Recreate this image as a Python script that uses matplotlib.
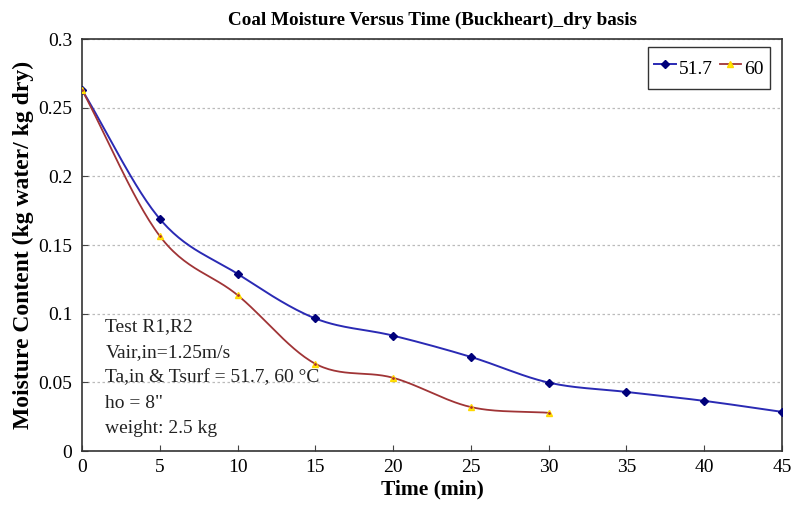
import matplotlib
matplotlib.use("Agg")
import matplotlib.pyplot as plt
import numpy as np

plt.rcParams['font.family'] = ['Liberation Serif', 'DejaVu Serif']

# Moisture content (kg water / kg dry) vs time (min)
time_517 = [0, 5, 10, 15, 20, 25, 30, 35, 40, 45]
mc_517 = [0.263, 0.169, 0.129, 0.0965, 0.084, 0.0685, 0.0498, 0.043, 0.0365, 0.0285]
time_60 = [0, 5, 10, 15, 20, 25, 30]
mc_60 = [0.263, 0.1565, 0.1135, 0.0635, 0.0533, 0.032, 0.0278]

y_ticks = [0, 0.05, 0.1, 0.15, 0.2, 0.25, 0.3]
y_tick_labels = ['0', '0.05', '0.1', '0.15', '0.2', '0.25', '0.3']
x_ticks = [0, 5, 10, 15, 20, 25, 30, 35, 40, 45]

notes = ['Test R1,R2', 'Vair,in=1.25m/s', 'Ta,in & Tsurf = 51.7, 60 \u00b0C',
         'ho = 8"', 'weight: 2.5 kg']


def smooth(x, y, n=30):
    # Catmull-Rom spline through the measured points
    x = np.asarray(x, float)
    y = np.asarray(y, float)
    px = np.concatenate([[2 * x[0] - x[1]], x, [2 * x[-1] - x[-2]]])
    py = np.concatenate([[2 * y[0] - y[1]], y, [2 * y[-1] - y[-2]]])
    xs, ys = [], []
    t = np.linspace(0, 1, n)
    for i in range(1, len(px) - 2):
        for p, out in ((px, xs), (py, ys)):
            p0, p1, p2, p3 = p[i - 1], p[i], p[i + 1], p[i + 2]
            out.append(0.5 * ((2 * p1) + (-p0 + p2) * t
                              + (2 * p0 - 5 * p1 + 4 * p2 - p3) * t ** 2
                              + (-p0 + 3 * p1 - 3 * p2 + p3) * t ** 3))
    return np.concatenate(xs), np.concatenate(ys)


fig = plt.figure(figsize=(7.91, 5.08), dpi=100)
ax = fig.add_axes([0.1037, 0.1122, 0.885, 0.811])

blue = '#2a2ab4'
red = '#a03436'

sx, sy = smooth(time_517, mc_517)
ax.plot(sx, sy, color=blue, lw=1.4, zorder=3)
ax.plot(time_517, mc_517, ls='none', marker='D', ms=4, color='#00007a', zorder=4)
sx, sy = smooth(time_60, mc_60)
ax.plot(sx, sy, color=red, lw=1.3, zorder=3)
ax.plot(time_60, mc_60, ls='none', marker='^', ms=5, mfc='#ffee00',
        mec='#ffd800', zorder=4)
ax.plot(time_60, mc_60, ls='none', marker='.', ms=2, color='#b03030', zorder=5)

# legend proxies
h1, = ax.plot([], [], color=blue, lw=1.4, marker='D', ms=4, mfc='#00007a', mec='#00007a')
h2, = ax.plot([], [], color=red, lw=1.3, marker='^', ms=5, mfc='#ffee00', mec='#ffd800')
leg = ax.legend([h1, h2], ['51.7', '60'], loc='upper right', ncol=2,
                bbox_to_anchor=(0.983, 0.981), borderaxespad=0, fontsize=14,
                frameon=True, fancybox=False, edgecolor='black', borderpad=0.35,
                handleheight=1.9, handlelength=1.1, handletextpad=0.15,
                columnspacing=0.35)
leg.get_frame().set_linewidth(1.0)

ax.set_xlim(0, 45)
ax.set_ylim(0, 0.3)
ax.set_xticks(x_ticks)
ax.set_yticks(y_ticks)
ax.set_yticklabels(y_tick_labels)
ax.tick_params(direction='in', labelsize=14, length=4, color='#444444')
ax.tick_params(axis='x', pad=6)
ax.tick_params(axis='y', pad=7)
ax.yaxis.grid(True, ls=(0, (2, 2)), color='#bbbbbb', lw=0.9)
for s in ax.spines.values():
    s.set_color('#333333')
    s.set_linewidth(1.2)

ax.set_title('Coal Moisture Versus Time (Buckheart)_dry basis', fontsize=13.8,
             fontweight='bold', pad=10)
ax.set_xlabel('Time (min)', fontsize=15.5, fontweight='bold', labelpad=2)
ax.set_ylabel('Moisture Content (kg water/ kg dry)', fontsize=17,
              fontweight='bold', labelpad=3)

for i, line in enumerate(notes):
    ax.text(1.5, 0.0905 - i * 0.0186, line, fontsize=14, color='#222222',
            va='center', ha='left')

fig.savefig('out.png', dpi=100)
